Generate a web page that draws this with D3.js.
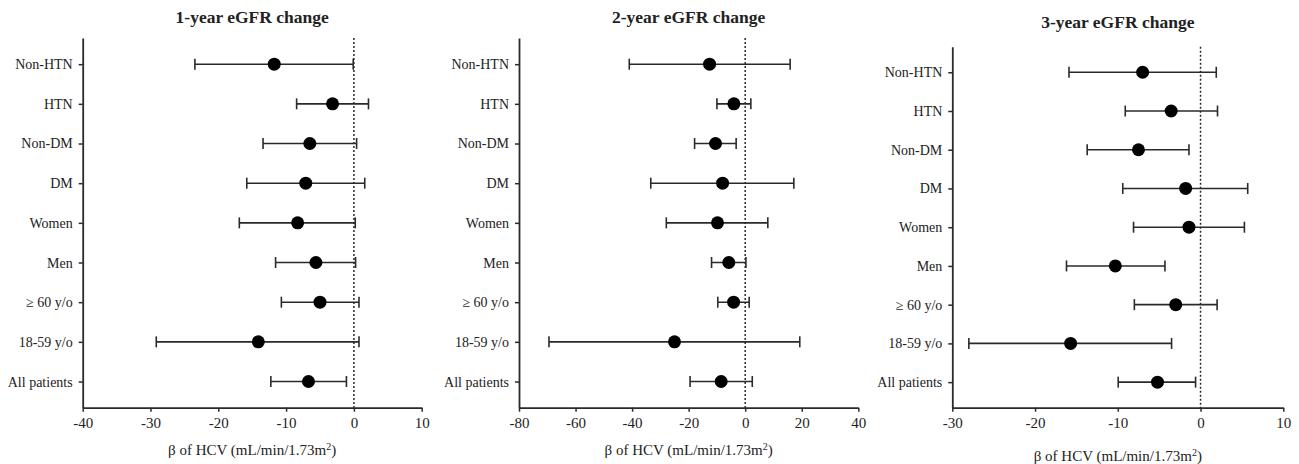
<!DOCTYPE html>
<html>
<head>
<meta charset="utf-8">
<script src="https://cdn.jsdelivr.net/npm/d3@7"></script>
<style>
  body { margin: 0; background: #fff; }
  text { font-family: "Liberation Serif", "Times New Roman", serif; fill: #222; }
</style>
</head>
<body>
<div id="chart"></div>
<script>
// subgroups, top to bottom
const categories = ["Non-HTN", "HTN", "Non-DM", "DM", "Women", "Men", "\u2265 60 y/o", "18-59 y/o", "All patients"];

// 1-year
const est1 = [-11.75, -3.15, -6.5, -7.1, -8.3, -5.6, -5.0, -14.1, -6.7];
const lo1  = [-23.45, -8.45, -13.4, -15.8, -16.9, -11.55, -10.7, -29.15, -12.25];
const hi1  = [-0.1, 2.15, 0.4, 1.6, 0.2, 0.25, 0.75, 0.75, -1.1];
const ticks1 = [-40, -30, -20, -10, 0, 10];

// 2-year
const est2 = [-12.6, -4.0, -10.5, -8.0, -9.8, -5.8, -4.1, -25.0, -8.5];
const lo2  = [-41.0, -10.0, -17.9, -33.4, -27.9, -11.9, -9.7, -69.4, -19.5];
const hi2  = [15.9, 2.0, -3.2, 17.2, 8.0, 0.25, 1.4, 19.3, 2.5];
const ticks2 = [-80, -60, -40, -20, 0, 20, 40];

// 3-year
const est3 = [-7.0, -3.55, -7.5, -1.8, -1.4, -10.3, -3.0, -15.7, -5.2];
const lo3  = [-15.9, -9.1, -13.7, -9.4, -8.1, -16.2, -8.0, -28.0, -9.95];
const hi3  = [1.9, 2.05, -1.4, 5.7, 5.3, -4.3, 2.0, -3.5, -0.6];
const ticks3 = [-30, -20, -10, 0, 10];

const titles = ["1-year eGFR change", "2-year eGFR change", "3-year eGFR change"];

const width = 1299, height = 464;
const ink = "#2a2a2a";

const svg = d3.select("#chart").append("svg")
  .attr("width", width)
  .attr("height", height);

// one forest plot panel
function panel(opts, title, est, lo, hi, ticks) {
  const x = d3.scaleLinear()
    .domain([ticks[0], ticks[ticks.length - 1]])
    .range([opts.left, opts.right]);
  const y = d3.scalePoint()
    .domain(categories)
    .range([opts.top, opts.bottom])
    .padding(0.66);

  const g = svg.append("g");

  // axes (plain hyphen for negatives, like the original)
  const xAxis = g.append("g")
    .attr("transform", `translate(0,${opts.bottom})`)
    .call(d3.axisBottom(x).tickValues(ticks).tickSize(4).tickSizeOuter(0).tickFormat(d => String(d)));
  const yAxis = g.append("g")
    .attr("transform", `translate(${opts.left},0)`)
    .call(d3.axisLeft(y).tickSize(4).tickSizeOuter(0).tickPadding(6));

  [xAxis, yAxis].forEach(a => {
    a.select(".domain").attr("stroke", ink).attr("stroke-width", 1.8);
    a.selectAll(".tick line").attr("stroke", ink).attr("stroke-width", 1.5);
  });
  xAxis.selectAll(".tick text").style("font-size", "15px").attr("dy", "0.9em").attr("fill", "#222");
  yAxis.selectAll(".tick text").style("font-size", "14px").attr("fill", "#222");

  // zero reference line
  g.append("line")
    .attr("x1", x(0)).attr("x2", x(0))
    .attr("y1", opts.top).attr("y2", opts.bottom)
    .attr("stroke", ink)
    .attr("stroke-width", 1.5)
    .attr("stroke-dasharray", "2,2");

  const rows = categories.map((c, i) => ({c: c, est: est[i], lo: lo[i], hi: hi[i]}));

  // error bars
  const bars = g.append("g").attr("stroke", ink).attr("stroke-width", 1.6);
  bars.selectAll(".ci").data(rows).join("line")
    .attr("x1", d => x(d.lo)).attr("x2", d => x(d.hi))
    .attr("y1", d => y(d.c)).attr("y2", d => y(d.c));
  bars.selectAll(".capl").data(rows).join("line")
    .attr("x1", d => x(d.lo)).attr("x2", d => x(d.lo))
    .attr("y1", d => y(d.c) - 5.5).attr("y2", d => y(d.c) + 5.5);
  bars.selectAll(".caph").data(rows).join("line")
    .attr("x1", d => x(d.hi)).attr("x2", d => x(d.hi))
    .attr("y1", d => y(d.c) - 5.5).attr("y2", d => y(d.c) + 5.5);

  // point estimates
  g.append("g").selectAll("circle").data(rows).join("circle")
    .attr("cx", d => x(d.est))
    .attr("cy", d => y(d.c))
    .attr("r", 6.5)
    .attr("fill", "#000");

  // title
  g.append("text")
    .attr("x", (opts.left + opts.right) / 2)
    .attr("y", opts.titleY)
    .attr("text-anchor", "middle")
    .attr("dominant-baseline", "middle")
    .style("font-size", "17.5px")
    .style("font-weight", "bold")
    .text(title);

  // x label
  const lab = g.append("text")
    .attr("x", (opts.left + opts.right) / 2)
    .attr("y", opts.labelY)
    .attr("text-anchor", "middle")
    .style("font-size", "15px");
  lab.append("tspan").text("\u03b2 of HCV (mL/min/1.73m");
  lab.append("tspan").attr("baseline-shift", "super").style("font-size", "10px").text("2");
  lab.append("tspan").text(")");
}

panel({left: 82.7, right: 421.7, top: 38, bottom: 407.7, titleY: 19, labelY: 455}, titles[0], est1, lo1, hi1, ticks1);
panel({left: 519, right: 858.3, top: 38, bottom: 407.7, titleY: 19, labelY: 455}, titles[1], est2, lo2, hi2, ticks2);
panel({left: 952.3, right: 1283.3, top: 46.7, bottom: 407.7, titleY: 23.5, labelY: 461}, titles[2], est3, lo3, hi3, ticks3);
</script>
</body>
</html>
